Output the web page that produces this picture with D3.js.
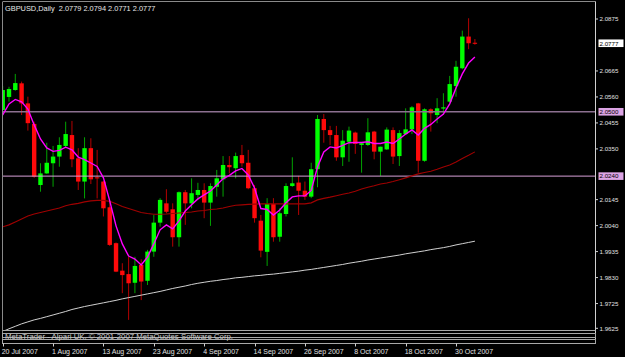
<!DOCTYPE html>
<html>
<head>
<meta charset="utf-8">
<script src="https://cdn.jsdelivr.net/npm/d3@7"></script>
<style>
body { margin: 0; background: #000; }
text { font-family: "Liberation Sans", Arial, sans-serif; }
</style>
</head>
<body>
<svg id="chart" width="625" height="357"></svg>
<script>
var symbol = "GBPUSD,Daily";

var dates = [
  "2007-07-20","2007-07-23","2007-07-24","2007-07-25","2007-07-26","2007-07-27","2007-07-30","2007-07-31",
  "2007-08-01","2007-08-02","2007-08-03","2007-08-06","2007-08-07","2007-08-08","2007-08-09","2007-08-10",
  "2007-08-13","2007-08-14","2007-08-15","2007-08-16","2007-08-17","2007-08-20","2007-08-21","2007-08-22",
  "2007-08-23","2007-08-24","2007-08-27","2007-08-28","2007-08-29","2007-08-30","2007-08-31","2007-09-03",
  "2007-09-04","2007-09-05","2007-09-06","2007-09-07","2007-09-10","2007-09-11","2007-09-12","2007-09-13",
  "2007-09-14","2007-09-17","2007-09-18","2007-09-19","2007-09-20","2007-09-21","2007-09-24","2007-09-25",
  "2007-09-26","2007-09-27","2007-09-28","2007-10-01","2007-10-02","2007-10-03","2007-10-04","2007-10-05",
  "2007-10-08","2007-10-09","2007-10-10","2007-10-11","2007-10-12","2007-10-15","2007-10-16","2007-10-17",
  "2007-10-18","2007-10-19","2007-10-22","2007-10-23","2007-10-24","2007-10-25","2007-10-26","2007-10-29",
  "2007-10-30","2007-10-31","2007-11-01","2007-11-02"
];

var open = [
  2.0507,2.0560,2.0588,2.0615,2.0534,2.0451,2.0204,2.0251,2.0292,2.0319,
  2.0362,2.0406,2.0312,2.0218,2.0353,2.0235,2.0218,2.0114,1.9969,1.9858,
  1.9844,1.9809,1.9881,1.9817,1.9935,2.0052,2.0130,2.0106,1.9993,2.0175,
  2.0130,2.0164,2.0184,2.0133,2.0197,2.0227,2.0285,2.0272,2.0325,2.0294,
  2.0191,2.0060,1.9934,2.0127,1.9995,2.0087,2.0200,2.0214,2.0181,2.0157,
  2.0268,2.0471,2.0426,2.0406,2.0316,2.0379,2.0416,2.0366,2.0366,2.0420,
  2.0339,2.0348,2.0426,2.0321,2.0410,2.0429,2.0534,2.0302,2.0510,2.0487,
  2.0513,2.0541,2.0604,2.0676,2.0804,2.0779
];
var high = [
  2.0604,2.0601,2.0653,2.0622,2.0561,2.0460,2.0292,2.0375,2.0362,2.0397,
  2.0460,2.0463,2.0353,2.0397,2.0393,2.0346,2.0220,2.0137,1.9972,1.9888,
  1.9914,1.9914,1.9904,1.9942,2.0083,2.0151,2.0187,2.0130,2.0178,2.0184,
  2.0231,2.0213,2.0211,2.0211,2.0265,2.0321,2.0321,2.0335,2.0366,2.0346,
  2.0204,2.0083,2.0151,2.0151,2.0110,2.0211,2.0316,2.0241,2.0218,2.0294,
  2.0487,2.0491,2.0443,2.0443,2.0426,2.0440,2.0420,2.0375,2.0474,2.0423,
  2.0359,2.0437,2.0437,2.0426,2.0514,2.0523,2.0536,2.0514,2.0514,2.0555,
  2.0575,2.0645,2.0706,2.0828,2.0878,2.0794
];
var low = [
  2.0491,2.0541,2.0585,2.0487,2.0424,2.0233,2.0177,2.0249,2.0197,2.0278,
  2.0353,2.0276,2.0184,2.0150,2.0208,2.0150,2.0077,1.9958,1.9852,1.9767,
  1.9659,1.9767,1.9739,1.9800,1.9914,2.0036,2.0090,1.9955,1.9955,2.0043,
  2.0110,2.0144,2.0070,2.0039,2.0157,2.0157,2.0251,2.0231,2.0278,2.0187,
  2.0052,1.9912,1.9877,1.9975,1.9975,2.0077,2.0197,2.0083,2.0144,2.0151,
  2.0195,2.0375,2.0366,2.0302,2.0281,2.0298,2.0330,2.0254,2.0362,2.0308,
  2.0241,2.0346,2.0289,2.0281,2.0406,2.0410,2.0254,2.0298,2.0420,2.0454,
  2.0487,2.0538,2.0561,2.0672,2.0753,2.0771
];
var close = [
  2.0588,2.0592,2.0616,2.0534,2.0454,2.0238,2.0251,2.0294,2.0319,2.0366,
  2.0410,2.0308,2.0218,2.0353,2.0227,2.0231,2.0110,1.9962,1.9854,1.9840,
  1.9807,1.9877,1.9814,1.9935,2.0052,2.0144,2.0096,1.9993,2.0175,2.0130,
  2.0171,2.0184,2.0133,2.0200,2.0231,2.0285,2.0276,2.0321,2.0292,2.0191,
  2.0070,1.9939,2.0127,1.9993,2.0090,2.0200,2.0211,2.0181,2.0157,2.0268,
  2.0471,2.0426,2.0406,2.0316,2.0383,2.0424,2.0370,2.0373,2.0417,2.0339,
  2.0359,2.0428,2.0319,2.0414,2.0429,2.0518,2.0302,2.0510,2.0494,2.0514,
  2.0518,2.0612,2.0682,2.0804,2.0777,2.0777
];

// moving averages (fast / medium / slow)
var maFast = [
  2.0487,2.0532,2.0550,2.0540,2.0511,2.0447,2.0390,2.0354,2.0340,2.0344,
  2.0357,2.0346,2.0317,2.0307,2.0293,2.0279,2.0233,2.0140,2.0039,1.9966,
  1.9917,1.9905,1.9881,1.9913,1.9966,2.0023,2.0043,2.0027,2.0059,2.0099,
  2.0124,2.0148,2.0164,2.0180,2.0204,2.0229,2.0243,2.0261,2.0271,2.0245,
  2.0192,2.0109,2.0105,2.0083,2.0103,2.0132,2.0156,2.0160,2.0160,2.0182,
  2.0277,2.0338,2.0358,2.0354,2.0364,2.0375,2.0376,2.0376,2.0379,2.0372,
  2.0372,2.0378,2.0372,2.0390,2.0410,2.0427,2.0406,2.0433,2.0449,2.0471,
  2.0491,2.0532,2.0596,2.0653,2.0697,2.0721
];
var maMid = [
  2.0035,2.0043,2.0055,2.0067,2.0079,2.0087,2.0093,2.0099,2.0105,2.0111,
  2.0120,2.0126,2.0130,2.0136,2.0140,2.0142,2.0142,2.0138,2.0128,2.0117,
  2.0109,2.0101,2.0093,2.0089,2.0086,2.0086,2.0087,2.0089,2.0091,2.0093,
  2.0095,2.0099,2.0101,2.0105,2.0107,2.0111,2.0117,2.0122,2.0124,2.0126,
  2.0127,2.0128,2.0128,2.0128,2.0128,2.0128,2.0128,2.0128,2.0128,2.0132,
  2.0144,2.0150,2.0155,2.0161,2.0167,2.0172,2.0179,2.0188,2.0195,2.0201,
  2.0208,2.0212,2.0218,2.0225,2.0233,2.0241,2.0249,2.0255,2.0260,2.0268,
  2.0277,2.0285,2.0297,2.0311,2.0324,2.0338
];
var maSlow = [
  1.9612,1.9623,1.9633,1.9643,1.9651,1.9659,1.9665,1.9672,1.9679,1.9686,
  1.9693,1.9701,1.9707,1.9713,1.9718,1.9723,1.9728,1.9733,1.9738,1.9744,
  1.9749,1.9754,1.9759,1.9764,1.9769,1.9774,1.9780,1.9786,1.9791,1.9796,
  1.9802,1.9807,1.9811,1.9815,1.9818,1.9822,1.9825,1.9829,1.9831,1.9834,
  1.9837,1.9839,1.9842,1.9844,1.9847,1.9850,1.9853,1.9856,1.9860,1.9863,
  1.9867,1.9871,1.9875,1.9879,1.9883,1.9888,1.9892,1.9896,1.9901,1.9905,
  1.9909,1.9913,1.9917,1.9921,1.9926,1.9930,1.9934,1.9938,1.9943,1.9947,
  1.9951,1.9956,1.9962,1.9967,1.9972,1.9977
];

var levels = [2.0500, 2.0240];
var priceTicks = ["2.0875","2.0665","2.0560","2.0455","2.0350","2.0145","2.0040","1.9935","1.9830","1.9725","1.9625"];
var tickDates = ["2007-07-20","2007-08-01","2007-08-13","2007-08-23","2007-09-04","2007-09-14","2007-09-26","2007-10-08","2007-10-18","2007-10-30"];
var tickLabels = ["20 Jul 2007","1 Aug 2007","13 Aug 2007","23 Aug 2007","4 Sep 2007","14 Sep 2007","26 Sep 2007","8 Oct 2007","18 Oct 2007","30 Oct 2007"];
var footer = "MetaTrader - Alpari UK, \u00a9 2001-2007 MetaQuotes Software Corp.";

var pl = 3, pr = 595.5, pt = 2, pb = 330.5;

var svg = d3.select("#chart");

var x = d3.scalePoint().domain(dates).range([2.7, 474.9]);
var y = d3.scaleLinear().domain([1.9625, 2.0875]).range([328.3, 19]);

svg.append("rect").attr("width", 625).attr("height", 357).attr("fill", "#000");

svg.append("clipPath").attr("id", "plot")
  .append("rect").attr("x", pl).attr("y", pt).attr("width", pr - pl).attr("height", pb - pt);

var plot = svg.append("g").attr("clip-path", "url(#plot)");

var bars = dates.map(function(d, i) {
  return { date: d, o: open[i], h: high[i], l: low[i], c: close[i] };
});

// wicks
plot.selectAll(".wick").data(bars).enter().append("line")
  .attr("class", "wick")
  .attr("x1", function(d) { return x(d.date); })
  .attr("x2", function(d) { return x(d.date); })
  .attr("y1", function(d) { return y(d.h); })
  .attr("y2", function(d) { return y(d.l); })
  .attr("stroke", function(d) { return d.c >= d.o ? "#00a400" : "#b40000"; })
  .attr("stroke-width", 1);

// bodies
plot.selectAll(".body").data(bars).enter().append("rect")
  .attr("class", "body")
  .attr("x", function(d) { return x(d.date) - 2.2; })
  .attr("width", 4.4)
  .attr("y", function(d) { return y(Math.max(d.o, d.c)); })
  .attr("height", function(d) { return Math.max(1, Math.abs(y(d.o) - y(d.c))); })
  .attr("fill", function(d) { return d.c >= d.o ? "#00ff00" : "#ff0a0a"; });

// horizontal levels
plot.selectAll(".level").data(levels).enter().append("line")
  .attr("class", "level")
  .attr("x1", pl).attr("x2", pr)
  .attr("y1", function(d) { return y(d); })
  .attr("y2", function(d) { return y(d); })
  .attr("stroke", function(d, i) { return i == 0 ? "#8c7090" : "#d8a0d8"; })
  .attr("stroke-width", function(d, i) { return i == 0 ? 1.6 : 1; });

// moving averages
var line = d3.line()
  .x(function(d, i) { return x(dates[i]); })
  .y(function(d) { return y(d); });

plot.append("path").datum(maSlow).attr("d", line)
  .attr("fill", "none").attr("stroke", "#d0d0d0").attr("stroke-width", 1);
plot.append("path").datum(maMid).attr("d", line)
  .attr("fill", "none").attr("stroke", "#a00000").attr("stroke-width", 1.1);
plot.append("path").datum(maFast).attr("d", line)
  .attr("fill", "none").attr("stroke", "#ff00ff").attr("stroke-width", 1.4);

// frame and the two empty sub windows
var frame = svg.append("g").attr("stroke", "#a8a8a8").attr("fill", "none").attr("stroke-width", 1);
frame.append("line").attr("x1", pl).attr("x2", pr).attr("y1", 1.5).attr("y2", 1.5).attr("stroke", "#8a8a8a");
frame.append("line").attr("x1", 2.5).attr("x2", 2.5).attr("y1", 1.5).attr("y2", 343).attr("stroke", "#8a8a8a");
frame.append("line").attr("x1", pr).attr("x2", pr).attr("y1", 1.5).attr("y2", 343.5).attr("stroke", "#d0d0d0");
frame.append("line").attr("x1", 2.5).attr("x2", pr).attr("y1", pb).attr("y2", pb);
frame.append("rect").attr("x", 2.5).attr("y", 333.5).attr("width", pr - 2.5).attr("height", 4);
frame.append("rect").attr("x", 2.5).attr("y", 339.5).attr("width", pr - 2.5).attr("height", 4);

svg.append("text")
  .attr("x", 5).attr("y", 338.5)
  .attr("font-size", 7).attr("fill", "#c8c8c8")
  .attr("textLength", 228).attr("lengthAdjust", "spacingAndGlyphs")
  .text(footer);

// title with last bar
var last = bars[bars.length - 1];
svg.append("text")
  .attr("x", 5).attr("y", 10.5)
  .attr("font-size", 7.4).attr("fill", "#e8e8e8")
  .style("white-space", "pre")
  .text(symbol + "  " + [last.o, last.h, last.l, last.c].map(function(v) { return v.toFixed(4); }).join(" "));

// price axis
var pa = svg.append("g");
pa.selectAll(".pt").data(priceTicks).enter().append("line")
  .attr("x1", pr).attr("x2", pr + 2.5)
  .attr("y1", function(d) { return y(+d); })
  .attr("y2", function(d) { return y(+d); })
  .attr("stroke", "#d0d0d0");
pa.selectAll(".pl").data(priceTicks).enter().append("text")
  .attr("x", 599.5)
  .attr("y", function(d) { return y(+d) + 2.2; })
  .attr("font-size", 6.2).attr("fill", "#e0e0e0")
  .text(function(d) { return d; });

// level tags and current price tag
var tags = levels.map(function(v) { return { v: v, bg: "#dca4e4" }; });
tags.push({ v: last.c, bg: "#ffffff" });
var tag = pa.selectAll(".tag").data(tags).enter().append("g");
tag.append("rect")
  .attr("x", 598.5).attr("width", 25)
  .attr("y", function(d) { return y(d.v) - 3.8; })
  .attr("height", 7.6)
  .attr("fill", function(d) { return d.bg; });
tag.append("text")
  .attr("x", 599.5)
  .attr("y", function(d) { return y(d.v) + 2.3; })
  .attr("font-size", 6.2).attr("fill", "#000")
  .text(function(d) { return d.v.toFixed(4); });

// time axis
var ta = svg.append("g");
ta.selectAll(".tt").data(tickDates).enter().append("line")
  .attr("x1", function(d) { return Math.round(x(d)) + 0.5; })
  .attr("x2", function(d) { return Math.round(x(d)) + 0.5; })
  .attr("y1", 343.5).attr("y2", 346.5)
  .attr("stroke", "#d0d0d0");
ta.selectAll(".tl").data(tickDates).enter().append("text")
  .attr("x", function(d) { return x(d) - 1; })
  .attr("y", 353.5)
  .attr("font-size", 7).attr("fill", "#e0e0e0")
  .text(function(d, i) { return tickLabels[i]; });
</script>
</body>
</html>
